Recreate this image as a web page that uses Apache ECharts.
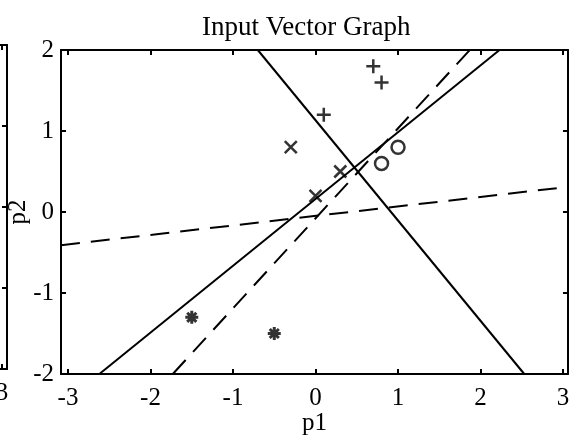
<!DOCTYPE html>
<html>
<head>
<meta charset="utf-8">
<script src="https://cdn.jsdelivr.net/npm/echarts@6/dist/echarts.min.js"></script>
<style>
  html, body { margin: 0; padding: 0; background: #fff; }
  #chart { width: 572px; height: 439px; }
</style>
</head>
<body>
<div id="chart"></div>
<script>
// Input vectors, grouped by target class
const plusPts   = [[0.1, 1.2], [0.7, 1.8], [0.8, 1.6]];
const crossPts  = [[0.3, 0.5], [0.0, 0.2], [-0.3, 0.8]];
const circlePts = [[0.8, 0.6], [1.0, 0.8]];
const starPts   = [[-0.5, -1.5], [-1.5, -1.3]];

// Decision boundaries (end points inside the axes box)
const solidLineA = [[-0.70, 2], [2.53, -2]];
const solidLineB = [[-2.62, -2], [2.23, 2]];
const dashLineC  = [[-1.73, -2], [1.87, 2]];
const dashLineD  = [[-3.085, -0.41], [3.06, 0.31]];

// Axis limits and tick labels
const xLimits = [-3.085, 3.06];
const yLimits = [-2, 2];
const xTicks = [-3, -2, -1, 0, 1, 2, 3];
const yTicks = [-2, -1, 0, 1, 2];
const prevXLimits = [-1.87, 3.06];
const prevXTicks = [-1, 0, 1, 2, 3];
const prevYTicks = [-2, -1, 0, 1, 2];

const FONT = 'Liberation Serif';
const INK = '#000';

const frameLine = { show: true, onZero: false, lineStyle: { color: INK, width: 2 } };
const innerTick = (vals) => ({ show: true, inside: true, length: 5, customValues: vals, lineStyle: { color: INK, width: 2 } });
const noLabel = { show: false };

const chart = echarts.init(document.getElementById('chart'), null, { renderer: 'canvas' });

function lineSeries(data, dashed) {
  return {
    type: 'line', xAxisIndex: 0, yAxisIndex: 0, data: data,
    symbol: 'none', silent: true, clip: true, animation: false,
    lineStyle: { color: INK, width: 2, type: dashed ? [19, 11] : 'solid' }
  };
}

function markerSeries(data, symbol, size, width) {
  return {
    type: 'scatter', xAxisIndex: 0, yAxisIndex: 0, data: data,
    symbol: symbol, symbolSize: size, silent: true, animation: false,
    itemStyle: { color: 'transparent', borderColor: INK, borderWidth: width }
  };
}

chart.setOption({
  animation: false,
  backgroundColor: '#fff',
  title: {
    text: 'Input Vector Graph',
    left: 197, top: 9,
    textStyle: { fontFamily: FONT, fontSize: 27, fontWeight: 'normal', color: INK }
  },
  grid: [
    { left: 61, top: 50, width: 507, height: 324, containLabel: false, outerBoundsMode: 'none' },
    { left: -400, top: 45, width: 407, height: 324, containLabel: false, outerBoundsMode: 'none' }
  ],
  xAxis: [
    {
      type: 'value', gridIndex: 0, position: 'bottom', min: xLimits[0], max: xLimits[1],
      name: 'p1', nameLocation: 'middle', nameGap: 37, nameMoveOverlap: false,
      nameTextStyle: { fontFamily: FONT, fontSize: 25, color: INK },
      axisLine: frameLine, axisTick: innerTick(xTicks), splitLine: { show: false },
      axisLabel: { customValues: xTicks, margin: 12, fontFamily: FONT, fontSize: 25, color: INK }
    },
    {
      type: 'value', gridIndex: 0, position: 'top', min: xLimits[0], max: xLimits[1],
      axisLine: frameLine, axisTick: innerTick(xTicks), splitLine: { show: false }, axisLabel: noLabel
    },
    {
      type: 'value', gridIndex: 1, position: 'bottom', min: prevXLimits[0], max: prevXLimits[1],
      axisLine: frameLine, axisTick: innerTick(prevXTicks), splitLine: { show: false },
      axisLabel: { customValues: [3], margin: 12, fontFamily: FONT, fontSize: 25, color: INK }
    },
    {
      type: 'value', gridIndex: 1, position: 'top', min: prevXLimits[0], max: prevXLimits[1],
      axisLine: frameLine, axisTick: innerTick(prevXTicks), splitLine: { show: false }, axisLabel: noLabel
    }
  ],
  yAxis: [
    {
      type: 'value', gridIndex: 0, position: 'left', min: yLimits[0], max: yLimits[1],
      name: 'p2', nameLocation: 'middle', nameGap: 30, nameRotate: 90, nameMoveOverlap: false,
      nameTextStyle: { fontFamily: FONT, fontSize: 25, color: INK },
      axisLine: frameLine, axisTick: innerTick(yTicks), splitLine: { show: false },
      axisLabel: { customValues: yTicks, margin: 7, fontFamily: FONT, fontSize: 25, color: INK }
    },
    {
      type: 'value', gridIndex: 0, position: 'right', min: yLimits[0], max: yLimits[1],
      axisLine: frameLine, axisTick: innerTick(yTicks), splitLine: { show: false }, axisLabel: noLabel
    },
    {
      type: 'value', gridIndex: 1, position: 'right', min: yLimits[0], max: yLimits[1],
      axisLine: frameLine, axisTick: innerTick(prevYTicks), splitLine: { show: false }, axisLabel: noLabel
    }
  ],
  series: [
    lineSeries(solidLineA, false),
    lineSeries(solidLineB, false),
    lineSeries(dashLineC, true),
    lineSeries(dashLineD, true),
    markerSeries(plusPts, 'path://M0,6H12M6,0V12', 14, 2.5),
    markerSeries(crossPts, 'path://M0,0L10,10M10,0L0,10', 12, 2.5),
    markerSeries(circlePts, 'circle', 13, 2.5),
    markerSeries(starPts, 'path://M0,5H10M5,0V10M1.5,1.5L8.5,8.5M8.5,1.5L1.5,8.5', 13, 3)
  ]
});
</script>
</body>
</html>
